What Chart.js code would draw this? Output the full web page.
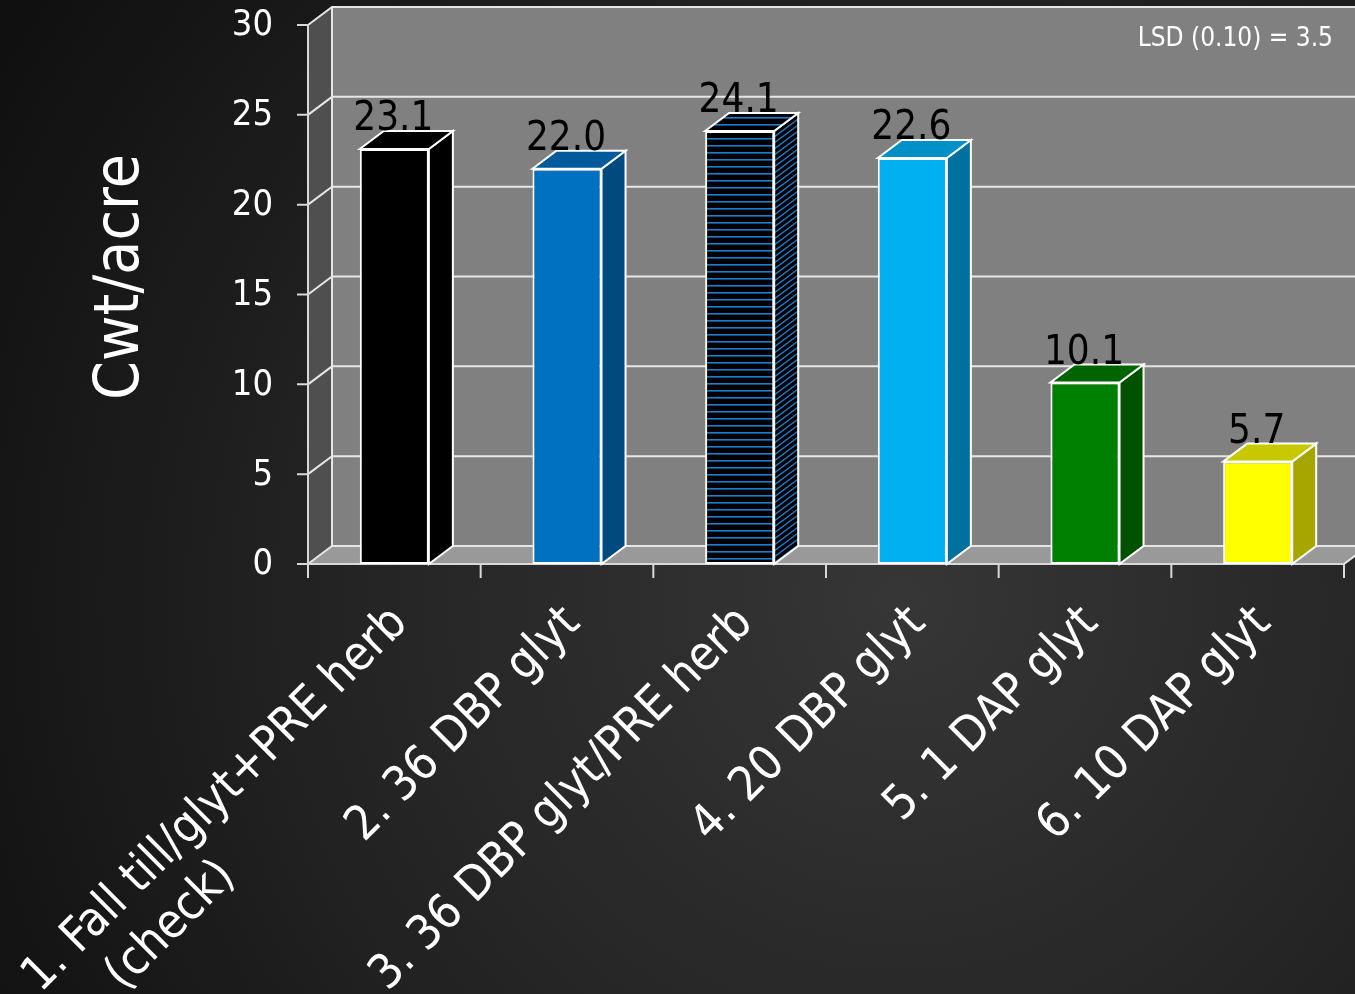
<!DOCTYPE html>
<html>
<head>
<meta charset="utf-8">
<script src="https://cdn.jsdelivr.net/npm/chart.js@4.4.1/dist/chart.umd.min.js"></script>
<style>
  html, body { margin: 0; padding: 0; background: #1a1a1a; }
  canvas { display: block; }
</style>
</head>
<body>
<canvas id="yield-chart" width="1355" height="994"></canvas>
<script>
// treatments and yields
const categories = [
    ['1. Fall till/glyt+PRE herb', '(check)'],
    '2. 36 DBP glyt',
    '3. 36 DBP glyt/PRE herb',
    '4. 20 DBP glyt',
    '5. 1 DAP glyt',
    '6. 10 DAP glyt'
];
const yieldCwt = [23.1, 22.0, 24.1, 22.6, 10.1, 5.7];
const yTicks = [0, 5, 10, 15, 20, 25, 30];
const lsdNote = 'LSD (0.10) = 3.5';
const yTitle = 'Cwt/acre';

// face colours: front / top / side
const frontColors = ['#000000', '#0070c0', null, '#00b0f0', '#008000', '#ffff00'];
const topColors = ['#000000', '#005a9c', null, '#0090c8', '#006400', '#c8c800'];
const sideColors = ['#000000', '#004a80', null, '#00709e', '#005200', '#a6a600'];

const FONT = '"DejaVu Sans Condensed", "DejaVu Sans", sans-serif';
const DX = 24, DY = -18;   // depth offset of the 3d box

const canvas = document.getElementById('yield-chart');
const ctx = canvas.getContext('2d');

// black with thin blue horizontal stripes
function stripePattern() {
    const c = document.createElement('canvas');
    c.width = 8; c.height = 7;
    const g = c.getContext('2d');
    g.fillStyle = '#000';
    g.fillRect(0, 0, 8, 7);
    g.fillStyle = '#1a7fd0';
    g.fillRect(0, 5, 8, 1.6);
    return ctx.createPattern(c, 'repeat');
}
const stripes = stripePattern();
frontColors[2] = stripes;
topColors[2] = stripes;

function poly(c, pts, fill, stroke, lw) {
    c.beginPath();
    c.moveTo(pts[0][0], pts[0][1]);
    for (let i = 1; i < pts.length; i++) c.lineTo(pts[i][0], pts[i][1]);
    c.closePath();
    if (fill) { c.fillStyle = fill; c.fill(); }
    if (stroke) { c.strokeStyle = stroke; c.lineWidth = lw || 2; c.stroke(); }
}

const box3d = {
    id: 'box3d',
    beforeDraw(chart) {
        const c = chart.ctx;
        const a = chart.chartArea;
        const ys = chart.scales.y, xs = chart.scales.x;
        c.save();

        // backdrop
        const bg = c.createRadialGradient(900, 600, 0, 900, 600, 1050);
        bg.addColorStop(0, '#363636');
        bg.addColorStop(0.55, '#232323');
        bg.addColorStop(1, '#101010');
        c.fillStyle = bg;
        c.fillRect(0, 0, chart.width, chart.height);

        // walls and floor
        poly(c, [[a.left + DX, a.top + DY], [a.right + DX, a.top + DY], [a.right + DX, a.bottom + DY], [a.left + DX, a.bottom + DY]], '#808080');
        poly(c, [[a.left, a.top], [a.left + DX, a.top + DY], [a.left + DX, a.bottom + DY], [a.left, a.bottom]], '#4f4f4f');
        poly(c, [[a.left, a.bottom], [a.left + DX, a.bottom + DY], [a.right + DX, a.bottom + DY], [a.right, a.bottom]], '#999999');

        // gridlines
        c.strokeStyle = '#e6e6e6';
        c.lineWidth = 2;
        yTicks.forEach(v => {
            const y = ys.getPixelForValue(v);
            c.beginPath();
            c.moveTo(a.left, y);
            c.lineTo(a.left + DX, y + DY);
            c.lineTo(a.right + DX, y + DY);
            c.stroke();
        });
        c.beginPath();
        c.moveTo(a.left + DX, a.top + DY);
        c.lineTo(a.left + DX, a.bottom + DY);
        c.moveTo(a.right, a.bottom);
        c.lineTo(a.right + DX, a.bottom + DY);
        c.stroke();

        // axes
        c.strokeStyle = '#d8d8d8';
        c.beginPath();
        c.moveTo(a.left, a.top);
        c.lineTo(a.left, a.bottom);
        c.lineTo(a.right, a.bottom);
        yTicks.forEach(v => {
            const y = ys.getPixelForValue(v);
            c.moveTo(a.left - 11, y);
            c.lineTo(a.left, y);
        });
        for (let i = 0; i <= categories.length; i++) {
            const x = xs.getPixelForValue(i - 0.5);
            c.moveTo(x, a.bottom);
            c.lineTo(x, a.bottom + 14);
        }
        c.stroke();

        // y tick labels
        c.fillStyle = '#ffffff';
        c.font = `36px ${FONT}`;
        c.textAlign = 'right';
        c.textBaseline = 'middle';
        yTicks.forEach(v => c.fillText(String(v), a.left - 35, ys.getPixelForValue(v) + 1));

        // y title
        c.save();
        c.translate(122, 277);
        c.rotate(-Math.PI / 2);
        c.font = `62px ${FONT}`;
        c.textAlign = 'center';
        c.fillText(yTitle, 0, 0);
        c.restore();

        // LSD note
        c.font = `26px ${FONT}`;
        c.textAlign = 'right';
        c.fillText(lsdNote, 1333, 39);

        // category labels at 45 degrees
        c.font = `48px ${FONT}`;
        categories.forEach((lab, i) => {
            const lines = Array.isArray(lab) ? lab : [lab];
            const cx = xs.getPixelForValue(i);
            c.save();
            c.translate(cx + 6, a.bottom + 52);
            c.rotate(-Math.PI / 4);
            c.textAlign = 'right';
            c.fillText(lines[0], 0, 0);
            if (lines[1]) {
                const w0 = c.measureText(lines[0]).width;
                c.textAlign = 'left';
                c.fillText(lines[1], -w0 + 60, 57);
            }
            c.restore();
        });

        c.restore();
    },
    afterDatasetsDraw(chart) {
        const c = chart.ctx;
        const meta = chart.getDatasetMeta(0);
        c.save();
        meta.data.forEach((bar, i) => {
            const l = bar.x - bar.width / 2, r = bar.x + bar.width / 2;
            const top = bar.y, base = bar.base;
            const side = [[r, top], [r + DX, top + DY], [r + DX, base + DY], [r, base]];
            const lid = [[l, top], [l + DX, top + DY], [r + DX, top + DY], [r, top]];
            if (i === 2) {
                poly(c, side, '#000');
                c.save();
                c.beginPath();
                side.forEach((p, k) => k ? c.lineTo(p[0], p[1]) : c.moveTo(p[0], p[1]));
                c.closePath();
                c.clip();
                c.strokeStyle = '#1a7fd0';
                c.lineWidth = 1.4;
                for (let yy = top + DY; yy < base; yy += 6) {
                    c.beginPath();
                    c.moveTo(r, yy);
                    c.lineTo(r + DX, yy + DY);
                    c.stroke();
                }
                c.restore();
                poly(c, side, null, '#ffffff', 2);
            } else {
                poly(c, side, sideColors[i], '#ffffff', 2);
            }
            poly(c, lid, topColors[i], '#ffffff', 2);

            c.fillStyle = '#000000';
            c.font = `40px ${FONT}`;
            c.textAlign = 'center';
            c.textBaseline = 'alphabetic';
            c.fillText(yieldCwt[i].toFixed(1), bar.x - 1, top - 19);
        });
        c.restore();
    }
};

new Chart(ctx, {
    type: 'bar',
    data: {
        labels: categories,
        datasets: [{
            data: yieldCwt,
            backgroundColor: frontColors,
            borderColor: '#ffffff',
            borderWidth: 2,
            borderSkipped: false,
            barPercentage: 0.4,
            categoryPercentage: 1.0
        }]
    },
    options: {
        responsive: false,
        animation: false,
        layout: { padding: { left: 308, right: 11, top: 25, bottom: 430 } },
        plugins: { legend: { display: false }, tooltip: { enabled: false } },
        scales: {
            x: { display: false },
            y: { display: false, min: 0, max: 30, ticks: { stepSize: 5 } }
        }
    },
    plugins: [box3d]
});
</script>
</body>
</html>
